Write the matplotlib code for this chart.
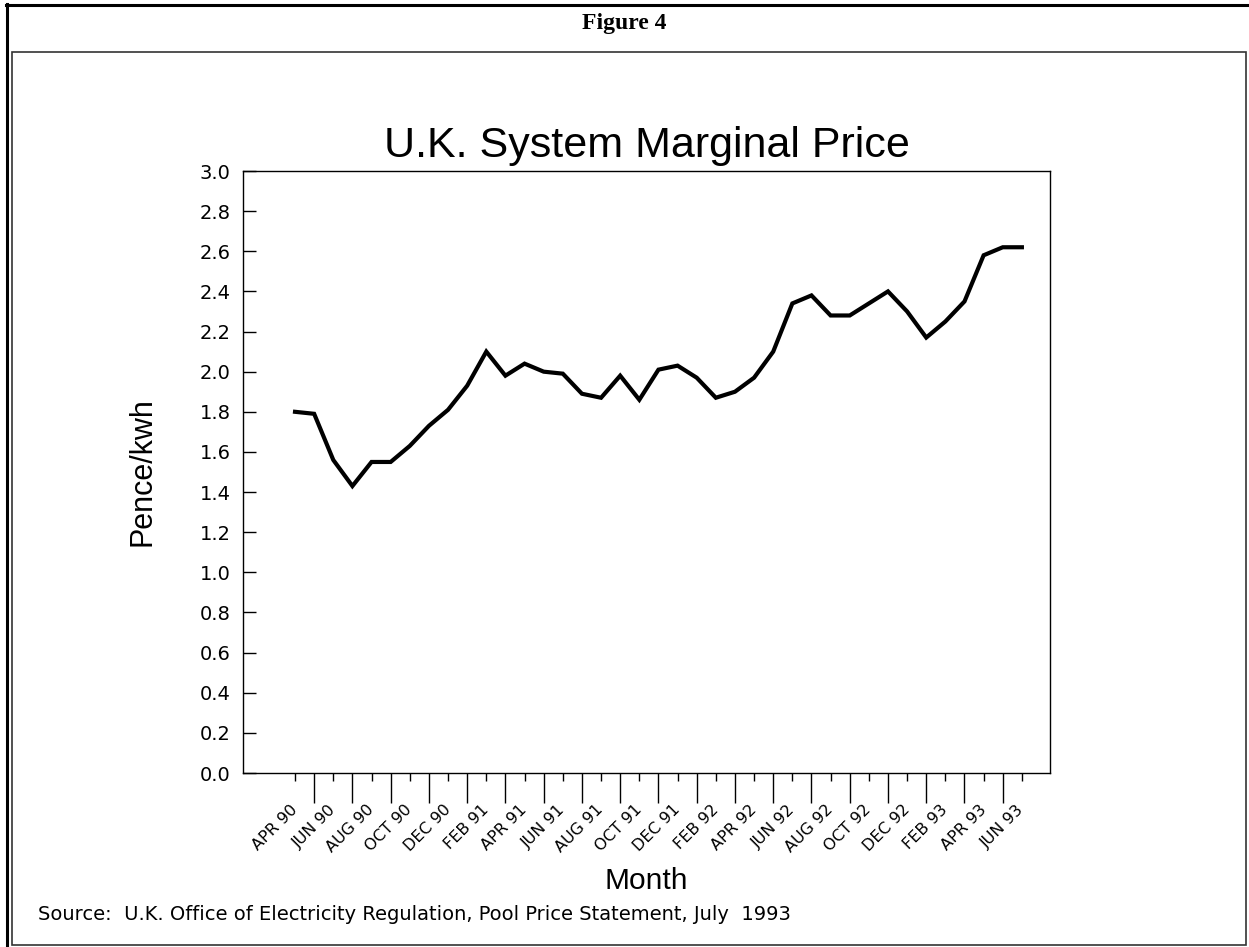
import matplotlib
matplotlib.use("Agg")
import matplotlib.pyplot as plt
from matplotlib.lines import Line2D
from matplotlib.patches import Rectangle

# ---- data ----
months = ["APR 90", "MAY 90", "JUN 90", "JUL 90", "AUG 90", "SEP 90", "OCT 90", "NOV 90",
          "DEC 90", "JAN 91", "FEB 91", "MAR 91", "APR 91", "MAY 91", "JUN 91", "JUL 91",
          "AUG 91", "SEP 91", "OCT 91", "NOV 91", "DEC 91", "JAN 92", "FEB 92", "MAR 92",
          "APR 92", "MAY 92", "JUN 92", "JUL 92", "AUG 92", "SEP 92", "OCT 92", "NOV 92",
          "DEC 92", "JAN 93", "FEB 93", "MAR 93", "APR 93", "MAY 93", "JUN 93"]
price = [1.80, 1.79, 1.56, 1.43, 1.55, 1.55, 1.63, 1.73, 1.81, 1.93,
         2.10, 1.98, 2.04, 2.00, 1.99, 1.89, 1.87, 1.98, 1.86, 2.01,
         2.03, 1.97, 1.87, 1.90, 1.97, 2.10, 2.34, 2.38, 2.28, 2.28,
         2.34, 2.40, 2.30, 2.17, 2.25, 2.35, 2.58, 2.62, 2.62]
yticks = [0.0, 0.2, 0.4, 0.6, 0.8, 1.0, 1.2, 1.4, 1.6, 1.8, 2.0, 2.2, 2.4, 2.6, 2.8, 3.0]

title = "U.K. System Marginal Price"
fig_title = "Figure 4"
source = "Source:  U.K. Office of Electricity Regulation, Pool Price Statement, July  1993"

W, H = 1249, 947
fig = plt.figure(figsize=(W / 100, H / 100), dpi=100)

def fx(px):
    return px / W

def fy(py):
    return 1 - py / H

# frame lines
fig.add_artist(Line2D([fx(6), fx(1249)], [fy(5), fy(5)], color="black", lw=2.2))
fig.add_artist(Line2D([fx(7), fx(7)], [fy(4), fy(947)], color="black", lw=2.2))
fig.add_artist(Rectangle((fx(11.5), fy(944.5)), fx(1245.5) - fx(11.5), fy(52) - fy(944.5),
                         fill=False, edgecolor="#333333", lw=1.2))

fig.text(fx(624), fy(29), fig_title, ha="center", va="baseline",
         family="Liberation Serif", weight="bold", fontsize=17)

ax = fig.add_axes([fx(243), fy(773), fx(1050) - fx(243), fy(171) - fy(773)])
x = list(range(len(months)))
ax.plot(x, price, color="black", lw=3.0, solid_joinstyle="miter")

ax.set_ylim(0, 3.0)
ax.set_xlim(-2.72, 39.47)
ax.set_yticks(yticks)
ax.set_yticklabels([f"{v:.1f}" for v in yticks], family="DejaVu Sans", fontsize=14)
ax.tick_params(axis="y", direction="in", length=9.4, width=1.0, pad=9)

ax.set_xticks(x[::2])
ax.set_xticklabels(months[::2], family="DejaVu Sans", fontsize=11.5,
                   rotation=45, ha="right", va="center", rotation_mode="anchor")
ax.set_xticks(x[1::2], minor=True)
ax.tick_params(axis="x", which="major", direction="out", length=5.8, width=1.0, pad=19)
ax.tick_params(axis="x", which="minor", direction="out", length=21.6, width=1.0)

for s in ax.spines.values():
    s.set_linewidth(1.0)

ax.set_title(title, family="Liberation Sans", fontsize=31, pad=10)
ax.set_ylabel("Pence/kwh", family="Liberation Sans", fontsize=22, labelpad=30)
ax.set_xlabel("Month", family="Liberation Sans", fontsize=21.5, labelpad=8)

fig.text(fx(38), fy(920), source, ha="left", va="baseline",
         family="DejaVu Sans", fontsize=14)

fig.savefig("out.png", dpi=100)
